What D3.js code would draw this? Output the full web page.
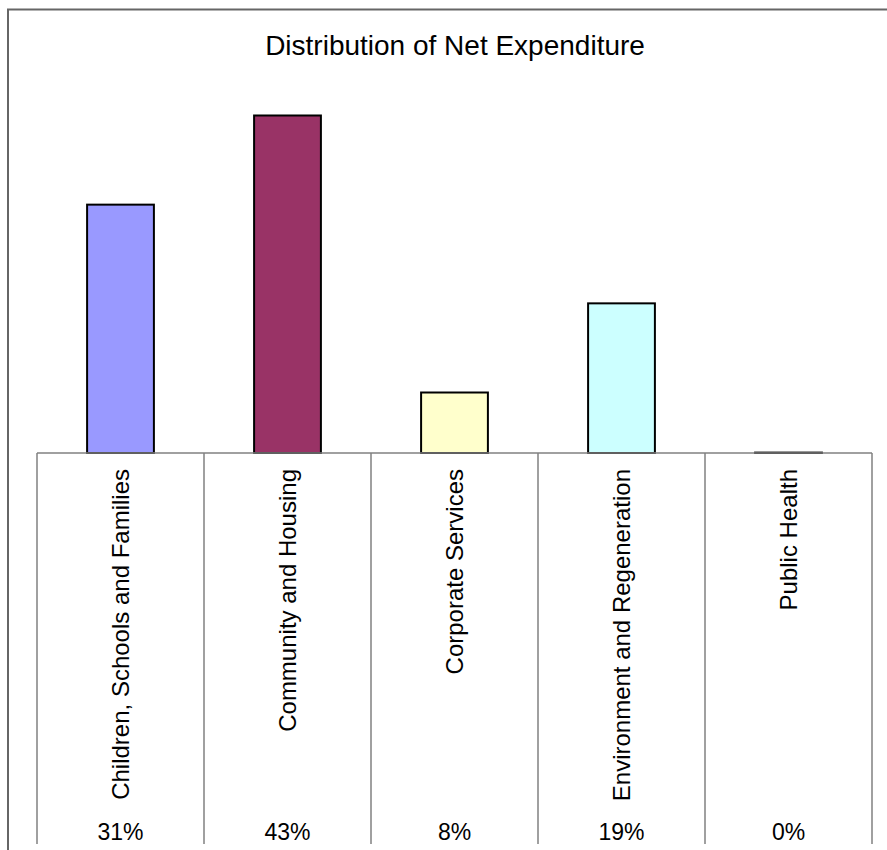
<!DOCTYPE html>
<html><head><meta charset="utf-8">
<script src="https://cdn.jsdelivr.net/npm/d3@7"></script>
<style>body{margin:0;background:#fff}svg{display:block}text{font-family:"Liberation Sans",Arial,sans-serif;fill:#000}</style>
</head><body>
<svg id="c" width="887" height="850"></svg>
<script>
const title = "Distribution of Net Expenditure";
const categories = ["Children, Schools and Families","Community and Housing","Corporate Services","Environment and Regeneration","Public Health"];
const values = [31.2, 42.4, 7.6, 18.8, 0.05];
const shareLabels = ["31%","43%","8%","19%","0%"];
const colors = ["#9999FF","#993366","#FFFFCC","#CCFFFF","#FFFFFF"];

const svg = d3.select("#c");
// outer frame
svg.append("path").attr("d","M8,851V9.5H888").attr("fill","none").attr("stroke","#666").attr("stroke-width",2);

svg.append("text").attr("x",455).attr("y",55).attr("text-anchor","middle").attr("font-size",28).text(title);

const x = d3.scaleBand().domain(categories).range([37,872]).paddingInner(0).paddingOuter(0);
const y = d3.scaleLinear().domain([0,50]).range([453,55]);
const bw = x.bandwidth()*0.4;

svg.selectAll("rect.bar").data(categories).join("rect").attr("class","bar")
  .attr("x",d=>x(d)+x.bandwidth()/2-bw/2)
  .attr("width",bw)
  .attr("y",(d,i)=>y(values[i]))
  .attr("height",(d,i)=>y(0)-y(values[i]))
  .attr("fill",(d,i)=>colors[i]).attr("stroke","#000").attr("stroke-width",2);

// category axis table
const g = svg.append("g");
g.append("line").attr("x1",37).attr("x2",872).attr("y1",y(0)).attr("y2",y(0)).attr("stroke","#808080").attr("stroke-width",1.5);
const bounds = categories.map(d=>x(d)).concat([x.range()[1]]);
g.selectAll("line.div").data(bounds).join("line").attr("class","div")
  .attr("x1",d=>d).attr("x2",d=>d).attr("y1",y(0)).attr("y2",844)
  .attr("stroke","#808080").attr("stroke-width",1.5);

g.selectAll("text.cat").data(categories).join("text").attr("class","cat")
  .attr("transform",d=>`translate(${x(d)+x.bandwidth()/2+8},469) rotate(-90)`)
  .attr("text-anchor","end").attr("font-size",24).text(d=>d);

g.selectAll("text.pct").data(shareLabels).join("text").attr("class","pct")
  .attr("x",(d,i)=>x(categories[i])+x.bandwidth()/2).attr("y",840)
  .attr("text-anchor","middle").attr("font-size",23).text(d=>d);
</script>
</body></html>
